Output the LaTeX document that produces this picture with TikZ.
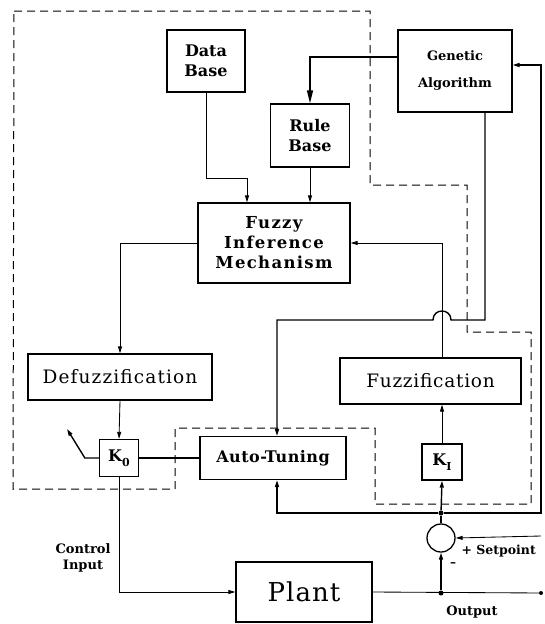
\documentclass[tikz,border=0pt]{standalone}
\usepackage{fontspec}
\setmainfont{DejaVu Serif}
\usetikzlibrary{arrows.meta}
\begin{document}
\begin{tikzpicture}[x=1pt,y=-1pt,
  box/.style={draw,line width=1.3pt,inner sep=0pt,align=center},
  thinln/.style={line width=0.85pt},
  fb/.style={line width=1.4pt},
  arr/.style={-{Triangle[length=7pt,width=4pt]}},
  bigarr/.style={-{Triangle[length=13pt,width=6pt]}},
  dsh/.style={line width=1pt,dash pattern=on 8pt off 5pt},
  jdot/.style={circle,fill,inner sep=0pt,minimum size=5pt},
  bf16/.style={font=\bfseries\fontsize{16}{20}\selectfont},
  lbl/.style={font=\bfseries\fontsize{13}{16}\selectfont,align=center}
]
\useasboundingbox (0,0) rectangle (545,624);

% dashed enclosure
\draw[dsh] (14,11) -- (370,11) -- (370,185) -- (467,185) -- (467,332) -- (531,332)
  -- (531,504) -- (375,504) -- (375,428) -- (175,428) -- (175,489) -- (13,489) -- cycle;

% boxes
\node[box,bf16,minimum width=78pt,minimum height=62pt] (db) at (206,61) {Data\\Base};
\node[box,bf16,minimum width=79pt,minimum height=63pt] (rb) at (310,135.5) {Rule\\Base};
\node[box,font=\bfseries\fontsize{13}{27}\selectfont,minimum width=114pt,minimum height=82pt] (ga) at (455,71) {Genetic\\Algorithm};
\node[box,font=\bfseries\fontsize{16.5}{20}\selectfont\addfontfeature{LetterSpace=8},minimum width=152pt,minimum height=80pt] (fim) at (274,243) {Fuzzy\\Inference\\Mechanism};
\node[box,font=\fontsize{18.5}{22}\selectfont\addfontfeature{LetterSpace=6},minimum width=184pt,minimum height=46pt] (dfz) at (120,377) {Defuzzification};
\node[box,font=\fontsize{18.5}{22}\selectfont\addfontfeature{LetterSpace=4},minimum width=181pt,minimum height=46pt] (fz) at (430.5,381) {Fuzzification};
\node[box,font=\bfseries\fontsize{16}{18}\selectfont,minimum width=39pt,minimum height=37pt] (k0) at (119,458) {K\raisebox{-0.3em}{\fontsize{11}{11}\selectfont 0}};
\node[box,font=\bfseries\fontsize{16}{18}\selectfont\addfontfeature{LetterSpace=3},minimum width=146pt,minimum height=43pt] (at) at (273,458) {Auto-Tuning};
\node[box,font=\bfseries\fontsize{16}{18}\selectfont,minimum width=40pt,minimum height=36pt] (ki) at (442,462) {K\raisebox{-0.3em}{\fontsize{11}{11}\selectfont I}};
\node[box,font=\fontsize{26}{30}\selectfont\addfontfeature{LetterSpace=4},minimum width=136pt,minimum height=60pt] (plant) at (304,592) {Plant};
\node[draw,circle,line width=1.3pt,minimum size=28pt,inner sep=0pt] (sum) at (441,538) {};

% junctions and free ends
\node[jdot] (j1) at (441,513) {};
\node[jdot] (j2) at (441,593) {};
\node[jdot,minimum size=4pt] (oend) at (541,593) {};
\coordinate (rc) at (541,513);
\coordinate (spin) at (541,536);
\coordinate (kend) at (67,429);
\coordinate (g1) at (485,320);
\coordinate (bumpR) at (451,320);
\coordinate (bumpL) at (433,320);
\coordinate (g2) at (277,320);

% labels
\node[lbl] (ci) at (83,558) {Control\\Input};
\node[lbl] (outl) at (472,612) {Output};
\node[font=\bfseries\fontsize{12.5}{14}\selectfont,anchor=west] (spl) at (458,551) {+ Setpoint};
\node[font=\bfseries\fontsize{12}{14}\selectfont] (minus) at (453,565) {–};

% connectors
\draw[thinln,arr] (db.south) -- ++(0,86) -| ([xshift=-27pt]fim.north);
\draw[thinln,arr] (rb.south) -- (rb.south |- fim.north);
\draw[fb,bigarr] ([yshift=14pt]ga.west) -| (rb.north);
\draw[thinln,arr] (fim.west) -| (dfz.north);
\draw[thinln,arr] (dfz.south) -- (k0.north);
\draw[fb,arr] (k0.west) -- ++(-14,0) -- (kend);
\draw[fb] (k0.east) -- (at.west);
\draw[thinln,arr] (fz.north -| ki.north) |- (fim.east);
\draw[thinln,arr] (ki.north) -- (ki.north |- fz.south);
\draw[fb,arr] ([xshift=30pt]ga.south) -- (g1) -- (bumpR)
  .. controls (451,308) and (433,308) .. (bumpL) -- (g2) -- ([xshift=4pt]at.north);
\draw[fb,arr] (j1) -| ([xshift=4pt]at.south);
\draw[fb,arr] (j1) -- (rc) |- ([yshift=6pt]ga.east);
\draw[fb,arr] (j1) -- (ki.south);
\draw[fb] (sum.north) -- (j1);
\draw[thinln,arr] (spin) -- (sum.east);
\draw[thinln] (plant.east) -- (oend);
\draw[fb,arr] (j2) -- (sum.south);
\draw[thinln,arr] (k0.south) |- (plant.west);
\end{tikzpicture}
\end{document}
